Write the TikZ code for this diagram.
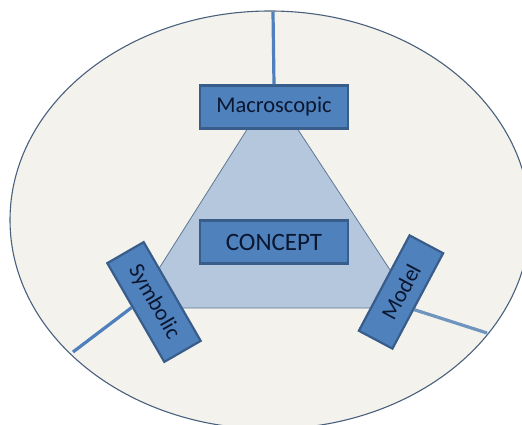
\documentclass[tikz,border=0pt]{standalone}
\usepackage{fontspec}
\setmainfont{Carlito}
\usepackage{tikz}
\usetikzlibrary{calc}

\definecolor{bgfill}{HTML}{F3F2EC}
\definecolor{rimcol}{HTML}{4A607C}
\definecolor{trifill}{HTML}{B4C7DC}
\definecolor{tricol}{HTML}{5F7894}
\definecolor{boxfill}{HTML}{4F81BD}
\definecolor{boxline}{HTML}{385D8A}
\definecolor{txtcol}{HTML}{0B1730}
\definecolor{spoke}{HTML}{4F7FBC}
\definecolor{spokelt}{HTML}{6F95BE}

\begin{document}
\begin{tikzpicture}[x=1pt, y=-1pt,
  lvl/.style={draw=boxline, line width=2.2pt, fill=boxfill, text=txtcol, inner sep=0pt,
    font=\fontsize{22.5}{26}\selectfont},
  arm/.style={draw=spoke, line width=3.2pt}]
\useasboundingbox (0,0) rectangle (522,425);
\clip (0,0) rectangle (522,425);
% outer field
\draw[draw=rimcol, line width=1.1pt, fill=bgfill] (270,220) ellipse [x radius=260, y radius=209];
% triangle
\draw[draw=tricol, line width=0.8pt, fill=trifill] (272,90) -- (134,308) -- (415,308) -- cycle;
\coordinate (ctop) at (273,12);
\coordinate (csym) at (73,352);
\coordinate (cmod) at (487,333);
% boxes
\node[lvl, minimum width=148, minimum height=43] (mac) at (274,107) {Macroscopic};
\node[lvl, minimum width=148, minimum height=43, font=\fontsize{25}{30}\selectfont] (con) at (274,242) {CONCEPT};
\node[lvl, minimum width=114, minimum height=42, rotate=-60] (sym) at (154,302) {Symbolic};
\node[lvl, minimum width=108, minimum height=38, rotate=62] (mod) at (401,292) {Model};
% spokes
\draw[arm] (mac.north) -- (ctop);
\draw[arm] ($(sym.south)!0.11!(sym.south west)$) -- (csym);
\draw[arm, draw=spokelt] ($(mod.south)!0.17!(mod.south west)$) -- (cmod);
\end{tikzpicture}
\end{document}
